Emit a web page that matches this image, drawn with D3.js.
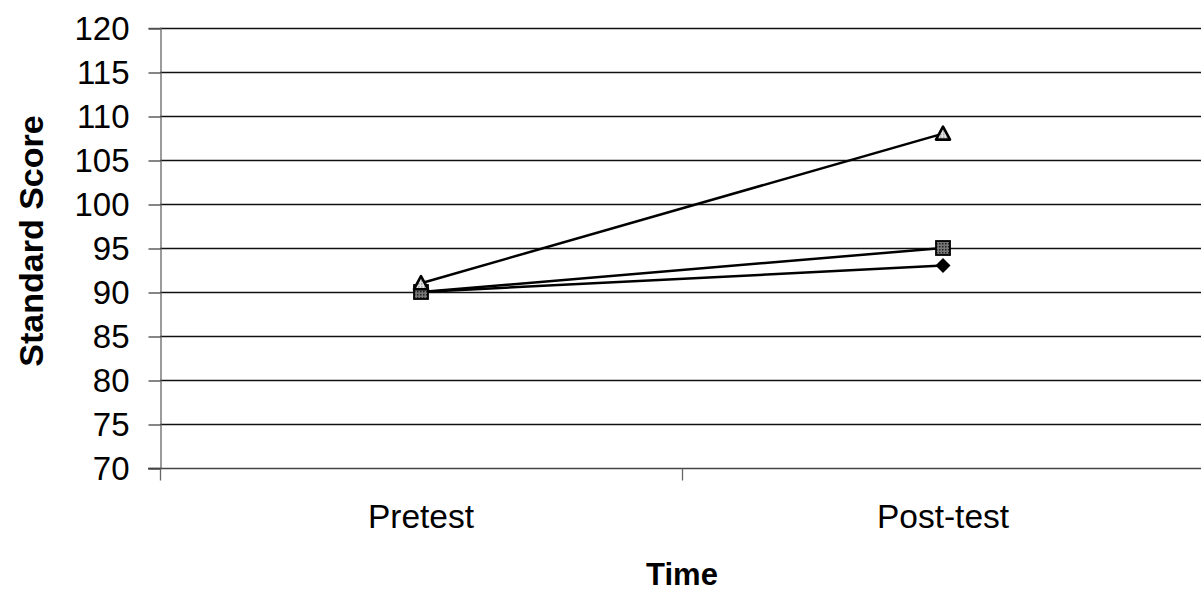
<!DOCTYPE html>
<html>
<head>
<meta charset="utf-8">
<script src="https://cdn.jsdelivr.net/npm/d3@7"></script>
<style>
  html, body { margin: 0; padding: 0; background: #fff; }
  svg { display: block; font-family: "Liberation Sans", Arial, sans-serif; }
</style>
</head>
<body>
<svg id="chart" width="1201" height="592"></svg>
<script>
// Chart data
const categories = ["Pretest", "Post-test"];
const diamondSeries = [90, 93];
const squareSeries = [90, 95];
const triangleSeries = [91, 108];
const yTicks = [70, 75, 80, 85, 90, 95, 100, 105, 110, 115, 120];

const svg = d3.select("#chart");
const margin = { left: 160, top: 28, right: -3, bottom: 124 };
const W = 1201, H = 592;

const x = d3.scaleBand().domain(categories)
  .range([margin.left, W - margin.right]).padding(0);
const y = d3.scaleLinear().domain([70, 120]).range([H - margin.bottom, margin.top]);

// Horizontal gridlines
svg.append("g").selectAll("line").data(yTicks.filter(d => d > 70)).join("line")
  .attr("x1", margin.left).attr("x2", W)
  .attr("y1", d => Math.round(y(d)) + 0.5).attr("y2", d => Math.round(y(d)) + 0.5)
  .attr("stroke", "#111").attr("stroke-width", 1.3);

// Y axis
const yAxis = svg.append("g").attr("transform", `translate(${margin.left + 0.5},0)`)
  .call(d3.axisLeft(y).tickValues(yTicks).tickSize(12).tickPadding(19));
yAxis.select(".domain").attr("stroke", "#666").attr("stroke-width", 1.3);
yAxis.selectAll(".tick line").attr("stroke", "#444").attr("stroke-width", 1.3)
  .attr("transform", "translate(0,0.5)");
yAxis.selectAll(".tick text").attr("font-size", 33).attr("fill", "#000")
  .attr("dy", "0.34em").attr("font-family", "Liberation Sans, Arial, sans-serif");

// X axis
const xAxisG = svg.append("g").attr("transform", `translate(0,${Math.round(y(70)) + 0.5})`);
xAxisG.append("line").attr("x1", margin.left - 12).attr("x2", W)
  .attr("stroke", "#444").attr("stroke-width", 1.3);
const boundaries = [margin.left, x(categories[1])];
xAxisG.selectAll("line.tk").data(boundaries).join("line").attr("class", "tk")
  .attr("x1", d => Math.round(d) + 0.5).attr("x2", d => Math.round(d) + 0.5)
  .attr("y1", 0).attr("y2", 12).attr("stroke", "#666").attr("stroke-width", 1.3);
xAxisG.selectAll("text").data(categories).join("text")
  .attr("x", d => x(d) + x.bandwidth() / 2).attr("y", 59)
  .attr("text-anchor", "middle").attr("font-size", 33.5).attr("fill", "#000")
  .text(d => d);

// Axis titles
svg.append("text").attr("transform", `translate(43,241) rotate(-90)`)
  .attr("text-anchor", "middle").attr("font-size", 34).attr("font-weight", "bold")
  .text("Standard Score");
svg.append("text").attr("x", 682).attr("y", 585)
  .attr("text-anchor", "middle").attr("font-size", 31).attr("font-weight", "bold")
  .text("Time");

const cx = d => x(d) + x.bandwidth() / 2;
const line = d3.line().x((d, i) => cx(categories[i])).y(d => y(d));

// Lines
[diamondSeries, squareSeries, triangleSeries].forEach(s => {
  svg.append("path").datum(s).attr("d", line)
    .attr("fill", "none").attr("stroke", "#000").attr("stroke-width", 2.5);
});

// Textured fills for square and triangle markers
const defs = svg.append("defs");
const pat = defs.append("pattern").attr("id", "dots").attr("width", 3).attr("height", 3)
  .attr("patternUnits", "userSpaceOnUse");
pat.append("rect").attr("width", 3).attr("height", 3).attr("fill", "#777");
pat.append("rect").attr("width", 1.5).attr("height", 1.5).attr("fill", "#222");
const pat2 = defs.append("pattern").attr("id", "tri").attr("width", 3).attr("height", 3)
  .attr("patternUnits", "userSpaceOnUse");
pat2.append("rect").attr("width", 3).attr("height", 3).attr("fill", "#e4e4e4");
pat2.append("rect").attr("width", 1.5).attr("height", 1.5).attr("fill", "#999");

// Markers
svg.append("g").selectAll("path").data(diamondSeries).join("path")
  .attr("transform", (d, i) => `translate(${cx(categories[i])},${y(d)})`)
  .attr("d", "M0,-7.5L7.5,0L0,7.5L-7.5,0Z")
  .attr("fill", "#000");
svg.append("g").selectAll("rect").data(squareSeries).join("rect")
  .attr("x", (d, i) => cx(categories[i]) - 7).attr("y", d => y(d) - 7)
  .attr("width", 14).attr("height", 14)
  .attr("fill", "url(#dots)").attr("stroke", "#000").attr("stroke-width", 1.8);
svg.append("g").selectAll("path").data(triangleSeries).join("path")
  .attr("transform", (d, i) => `translate(${cx(categories[i])},${y(d)})`)
  .attr("d", "M0,-7L7,6L-7,6Z")
  .attr("fill", "url(#tri)").attr("stroke", "#000").attr("stroke-width", 2.6)
  .attr("stroke-linejoin", "round");
</script>
</body>
</html>
